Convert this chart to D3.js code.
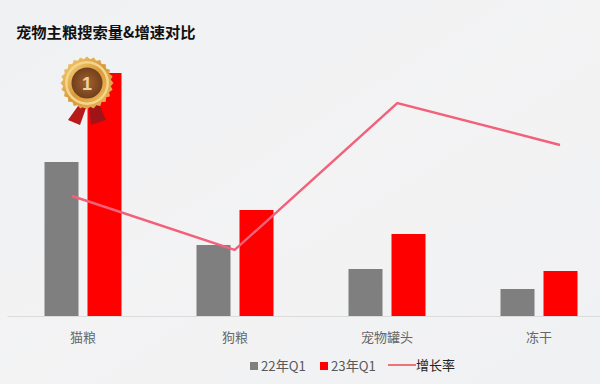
<!DOCTYPE html>
<html>
<head>
<meta charset="utf-8">
<script src="https://cdn.jsdelivr.net/npm/d3@7"></script>
<style>
  html, body { margin: 0; padding: 0; background: #f1f2f4; }
  svg { display: block; font-family: "Noto Sans CJK SC", sans-serif; }
</style>
</head>
<body>
<div id="chart"></div>
<script>
var categories = ["猫粮", "狗粮", "宠物罐头", "冻干"];
var seriesNames = ["22年Q1", "23年Q1"];
var values22 = [154, 71, 47, 27];
var values23 = [243, 106, 82, 45];
var growthRate = [58, 49, 73.5, 66.5];
var colors = ["#7f7f7f", "#ff0000"];
var lineColor = "#f2607a";

var width = 600, height = 384;

var svg = d3.select("#chart")
    .append("svg")
    .attr("width", width)
    .attr("height", height);

// background, very light gradient
var defs = svg.append("defs");
var bg = defs.append("linearGradient").attr("id", "bg")
    .attr("x1", 0).attr("y1", 0).attr("x2", 1).attr("y2", 1);
bg.append("stop").attr("offset", "0%").attr("stop-color", "#eff1f3");
bg.append("stop").attr("offset", "50%").attr("stop-color", "#f3f3f4");
bg.append("stop").attr("offset", "100%").attr("stop-color", "#f0f1f3");
svg.append("rect").attr("width", width).attr("height", height).attr("fill", "url(#bg)");

// scales
var x = d3.scaleBand().domain(categories).range([7, 615]);
var y = d3.scaleLinear().domain([0, 243]).range([316, 73]);
var xLine = d3.scalePoint().domain(categories).range([72, 560]);
var yLine = d3.scaleLinear().domain([40, 80]).range([304, 64]);

var barW = 34, gap = 9;

// bars
[values22, values23].forEach(function (vals, s) {
    svg.append("g").selectAll("rect")
        .data(vals)
        .enter().append("rect")
        .attr("x", function (d, i) {
            return x(categories[i]) + x.bandwidth() / 2 + (s === 0 ? -gap / 2 - barW : gap / 2);
        })
        .attr("y", function (d) { return y(d); })
        .attr("width", barW)
        .attr("height", function (d) { return y(0) - y(d); })
        .attr("fill", colors[s]);
});

// axis
var axis = svg.append("g")
    .attr("transform", "translate(0,316)")
    .call(d3.axisBottom(x).tickSize(0).tickPadding(17));
axis.select(".domain").attr("stroke", "#dcdcdc").attr("stroke-width", 1);
axis.selectAll("text")
    .attr("font-size", 13)
    .attr("font-family", '"Noto Sans CJK SC", sans-serif')
    .attr("fill", "#666666");

// growth line
var line = d3.line()
    .x(function (d, i) { return xLine(categories[i]); })
    .y(function (d) { return yLine(d); });
svg.append("path")
    .datum(growthRate)
    .attr("d", line)
    .attr("fill", "none")
    .attr("stroke", lineColor)
    .attr("stroke-width", 2.4);

// title
svg.append("text")
    .attr("x", 16).attr("y", 38)
    .attr("font-size", 15.3)
    .attr("font-weight", 700)
    .attr("fill", "#111111")
    .text("宠物主粮搜索量&增速对比");

// legend
var legend = svg.append("g");
legend.append("rect").attr("x", 250).attr("y", 362).attr("width", 8).attr("height", 8).attr("fill", colors[0]);
legend.append("text").attr("x", 261).attr("y", 371).attr("font-size", 13.2).attr("fill", "#595959").text(seriesNames[0]);
legend.append("rect").attr("x", 320).attr("y", 362).attr("width", 8).attr("height", 8).attr("fill", colors[1]);
legend.append("text").attr("x", 331).attr("y", 371).attr("font-size", 13.2).attr("fill", "#595959").text(seriesNames[1]);
legend.append("line").attr("x1", 388).attr("x2", 416).attr("y1", 365).attr("y2", 365)
    .attr("stroke", "#e8202a").attr("stroke-width", 1.2);
legend.append("text").attr("x", 416).attr("y", 369.5).attr("font-size", 13).attr("fill", "#222222").text("增长率");

// medal
var medal = svg.append("g").attr("transform", "translate(87,83)");
var gold = defs.append("linearGradient").attr("id", "gold")
    .attr("x1", 0).attr("y1", 0).attr("x2", 1).attr("y2", 1);
gold.append("stop").attr("offset", "0%").attr("stop-color", "#f5cf78");
gold.append("stop").attr("offset", "50%").attr("stop-color", "#d99a3a");
gold.append("stop").attr("offset", "100%").attr("stop-color", "#eeb95c");
var core = defs.append("radialGradient").attr("id", "core");
core.append("stop").attr("offset", "0%").attr("stop-color", "#a5602e");
core.append("stop").attr("offset", "100%").attr("stop-color", "#70401c");

medal.append("path").attr("d", "M-9,23 L-19,37 L-7,42 L-1,25 Z").attr("fill", "#b81a1c");
medal.append("path").attr("d", "M2,25 L4,42 L19,37 L12,21 Z").attr("fill", "#a01418");

var teeth = d3.range(48).map(function (i) {
    var a = i / 48 * 2 * Math.PI, r = i % 2 ? 24 : 26.5;
    return [r * Math.cos(a), r * Math.sin(a)];
});
medal.append("path").attr("d", d3.line().curve(d3.curveLinearClosed)(teeth)).attr("fill", "url(#gold)");
medal.append("circle").attr("r", 22).attr("fill", "#f3d68c");
medal.append("circle").attr("r", 19.5).attr("fill", "url(#gold)");
medal.append("circle").attr("r", 15.5).attr("fill", "url(#core)");
medal.append("text").attr("y", 6.5).attr("text-anchor", "middle")
    .attr("font-size", 18).attr("font-weight", 700)
    .attr("font-family", '"Liberation Sans", sans-serif')
    .attr("fill", "#edd3a2").text("1");
</script>
</body>
</html>
